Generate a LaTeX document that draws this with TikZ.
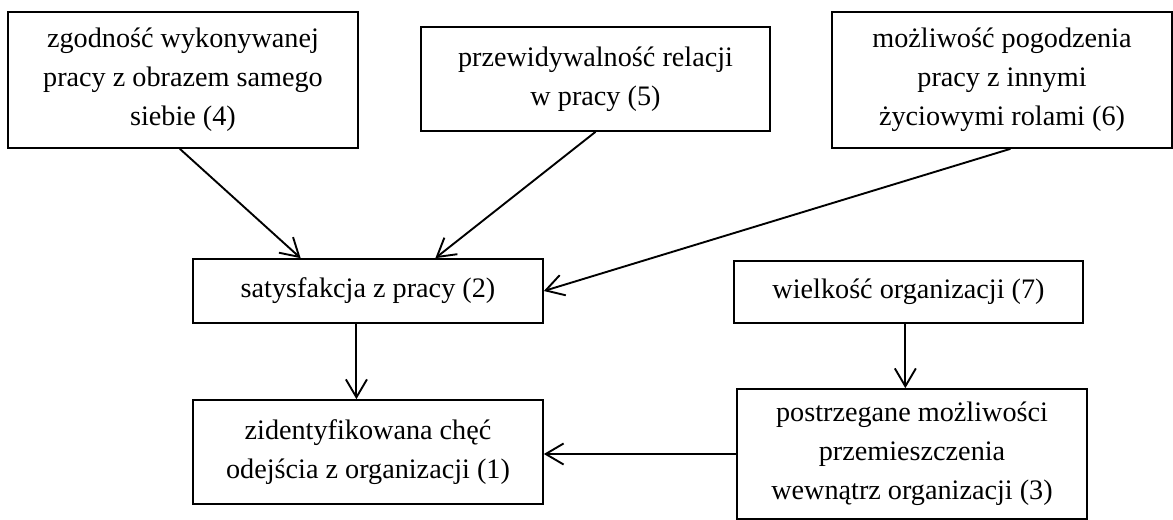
\documentclass[tikz,border=0pt]{standalone}
\usepackage{fontspec}
\setmainfont{Liberation Serif}
\usetikzlibrary{arrows.meta}

\begin{document}
\begin{tikzpicture}[x=0.475pt, y=-0.475pt,
    box/.style={draw, line width=0.8pt, align=center, inner sep=0pt,
        font=\fontsize{13.4}{18.6}\selectfont},
    link/.style={line width=0.9pt, -{Straight Barb[length=8.5pt,width=10pt]}}]
    \useasboundingbox (0,0) rectangle (1173,520);

    % Top row: causes of satisfaction
    \node[box, minimum width=350*0.475pt, minimum height=136*0.475pt] (zgod) at (183,80)
        {zgodność wykonywanej\\pracy z obrazem samego\\siebie (4)};
    \node[box, minimum width=349*0.475pt, minimum height=104*0.475pt] (przew) at (595.5,79)
        {przewidywalność relacji\\w pracy (5)};
    \node[box, minimum width=340*0.475pt, minimum height=136*0.475pt] (pogodz) at (1002,80)
        {możliwość pogodzenia\\pracy z innymi\\życiowymi rolami (6)};

    % Middle row
    \node[box, minimum width=350*0.475pt, minimum height=64*0.475pt] (satys) at (368,291)
        {satysfakcja z pracy (2)};
    \node[box, minimum width=349*0.475pt, minimum height=62*0.475pt] (wielk) at (908.5,292)
        {wielkość organizacji (7)};

    % Bottom row
    \node[box, minimum width=350*0.475pt, minimum height=104*0.475pt] (chec) at (368,452)
        {zidentyfikowana chęć\\odejścia z organizacji (1)};
    \node[box, minimum width=350*0.475pt, minimum height=130*0.475pt] (przem) at (912,454)
        {postrzegane możliwości\\przemieszczenia\\wewnątrz organizacji (3)};

    % Arrows
    \draw[link] ([xshift=-1.5pt]zgod.south) -- ([xshift=-32pt]satys.north);
    \draw[link] (przew.south) -- ([xshift=32pt]satys.north);
    \draw[link] ([xshift=4pt]pogodz.south) -- (satys.east);
    \draw[link] ([xshift=-5.5pt]satys.south) -- ([xshift=-5.5pt]chec.north);
    \draw[link] ([xshift=-1.5pt]wielk.south) -- ([xshift=-1.5pt]wielk.south |- przem.north);
    \draw[link] (przem.west) -- (przem.west -| chec.east);
\end{tikzpicture}
\end{document}
